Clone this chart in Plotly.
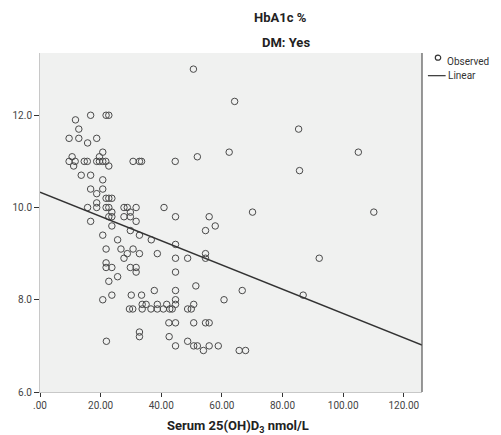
import plotly.graph_objects as go

# ---- data ----
obs_x = [
    11.7, 16.7, 21.8, 22.7, 12.8, 9.6, 12.8, 15.7, 18.7, 20.7, 10.6, 19.6,
    9.6, 11.6, 14.6, 15.6, 18.7, 19.6, 20.7, 21.7, 30.7, 32.8, 33.5, 44.6,
    11.1, 22.7, 13.6, 16.7, 20.7, 16.7, 20.7, 18.7, 21.8, 22.7, 23.7, 18.7,
    15.7, 18.7, 21.8, 22.7, 27.7, 28.8, 31.7, 40.9,
    16.7, 22.7, 23.7, 27.7, 29.8, 23.7, 29.8, 31.7, 23.7, 29.8, 20.7, 32.8,
    36.7, 25.6, 21.8, 26.7, 30.7, 28.8, 32.8, 38.7, 27.7, 21.8, 21.8, 23.7,
    29.8, 31.7, 31.7, 22.7, 25.6, 37.7, 20.7, 23.7, 30.1, 33.5,
    29.5, 30.6, 33.7, 36.6, 38.7, 40.7, 42.8, 43.6,
    33.7, 35.0, 38.7, 41.8,
    42.5, 32.8, 32.8, 42.6, 21.9,
    44.7, 55.8, 57.8, 54.6, 44.7, 54.6, 44.7, 48.7, 54.6, 44.7, 51.4, 44.7,
    66.7, 60.7, 44.7, 44.7, 50.7, 48.7, 49.9, 44.7, 50.7, 54.6, 55.8,
    44.7, 48.7, 50.7, 51.9, 53.9, 55.8, 58.8, 65.7, 67.8, 70.1,
    50.6, 64.2, 85.3, 51.9, 62.4, 85.6, 105.0, 110.1, 92.1, 86.8,
]
obs_y = [
    11.9, 12.0, 12.0, 12.0, 11.7, 11.5, 11.5, 11.4, 11.5, 11.2, 11.1, 11.1,
    11.0, 11.0, 11.0, 11.0, 11.0, 11.0, 11.0, 11.0, 11.0, 11.0, 11.0, 11.0,
    10.9, 10.9, 10.7, 10.7, 10.6, 10.4, 10.4, 10.3, 10.2, 10.2, 10.2, 10.1,
    10.0, 10.0, 10.0, 10.0, 10.0, 10.0, 10.0, 10.0,
    9.7, 9.8, 9.8, 9.8, 9.8, 9.9, 9.9, 9.7, 9.6, 9.5, 9.4, 9.4,
    9.3, 9.3, 9.1, 9.1, 9.1, 9.0, 9.0, 9.0, 8.9, 8.8, 8.7, 8.7,
    8.7, 8.7, 8.6, 8.4, 8.5, 8.2, 8.0, 8.1, 8.1, 8.1,
    7.8, 7.8, 7.8, 7.8, 7.8, 7.8, 7.8, 7.8,
    7.9, 7.9, 7.9, 7.9,
    7.5, 7.3, 7.2, 7.2, 7.1,
    9.8, 9.8, 9.6, 9.5, 9.2, 9.0, 8.9, 8.9, 8.9, 8.6, 8.3, 8.2,
    8.2, 8.0, 8.0, 7.9, 7.9, 7.8, 7.8, 7.5, 7.5, 7.5, 7.5,
    7.0, 7.1, 7.0, 7.0, 6.9, 7.0, 7.0, 6.9, 6.9, 9.9,
    13.0, 12.3, 11.7, 11.1, 11.2, 10.8, 11.2, 9.9, 8.9, 8.1,
]

fit_x = [0.0, 126.0]
fit_y = [10.33, 7.02]

x_tick_vals = [0, 20, 40, 60, 80, 100, 120]
x_tick_text = [".00", "20.00", "40.00", "60.00", "80.00", "100.00", "120.00"]
y_tick_vals = [6, 8, 10, 12]
y_tick_text = ["6.0", "8.0", "10.0", "12.0"]

FONT = "Roboto"

fig = go.Figure()
fig.add_trace(go.Scatter(
    x=obs_x, y=obs_y, mode="markers", name="Observed",
    marker=dict(symbol="circle-open", size=6.5, color="#4a4a4a",
                line=dict(width=1, color="#4a4a4a")),
    showlegend=False,
))
fig.add_trace(go.Scatter(
    x=fit_x, y=fit_y, mode="lines", name="Linear",
    line=dict(color="#333333", width=1.5), showlegend=False,
))

fig.update_layout(
    width=501, height=435,
    margin=dict(l=34, r=79, t=53, b=43, pad=0),
    paper_bgcolor="white", plot_bgcolor="#f0f1f0",
    font=dict(family=FONT, size=10, color="#444444"),
    xaxis=dict(range=[0, 126], tickvals=x_tick_vals, ticktext=x_tick_text,
               showgrid=False, zeroline=False, showline=True,
               linecolor="#c8c8c8", linewidth=1,
               ticks="outside", ticklen=4, tickcolor="#333333",
               tickfont=dict(size=10, color="#444444")),
    yaxis=dict(range=[6, 13.35], tickvals=y_tick_vals, ticktext=y_tick_text,
               showgrid=False, zeroline=False, showline=True,
               linecolor="#c8c8c8", linewidth=1,
               ticks="outside", ticklen=5, tickcolor="#333333",
               tickfont=dict(size=10, color="#444444")),
    shapes=[
        # right frame line
        dict(type="line", xref="paper", yref="paper", x0=1, x1=1, y0=0, y1=1,
             line=dict(color="#555555", width=1.2)),
        # legend line sample
        dict(type="line", xref="paper", yref="paper",
             x0=(428 - 34) / 388, x1=(446 - 34) / 388,
             y0=(392.7 - 76) / 339.4, y1=(392.7 - 76) / 339.4,
             line=dict(color="#333333", width=1.2)),
        # legend circle sample
        dict(type="circle", xref="paper", yref="paper",
             x0=(435.5 - 34) / 388, x1=(441 - 34) / 388,
             y0=(392.7 - 60.5) / 339.4, y1=(392.7 - 55.5) / 339.4,
             line=dict(color="#333333", width=1.2)),
    ],
    annotations=[
        dict(text="<b>HbA1c %</b>", xref="paper", yref="paper",
             x=(278 - 34) / 388, y=(392.7 - 18) / 339.4, xanchor="center",
             yanchor="middle", showarrow=False,
             font=dict(family=FONT, size=13, color="#222222")),
        dict(text="<b>DM: Yes</b>", xref="paper", yref="paper",
             x=(284 - 34) / 388, y=(392.7 - 43) / 339.4, xanchor="center",
             yanchor="middle", showarrow=False,
             font=dict(family=FONT, size=13, color="#222222")),
        dict(text="<b>Serum 25(OH)D<sub>3</sub> nmol/L</b>", xref="paper",
             yref="paper", x=(235 - 34) / 388, y=(392.7 - 427) / 339.4,
             xanchor="center", yanchor="middle", showarrow=False,
             font=dict(family=FONT, size=13, color="#222222")),
        dict(text="Observed", xref="paper", yref="paper",
             x=(445 - 34) / 388, y=(392.7 - 62) / 339.4, xanchor="left",
             yanchor="middle", showarrow=False,
             font=dict(family=FONT, size=10, color="#333333")),
        dict(text="Linear", xref="paper", yref="paper",
             x=(446 - 34) / 388, y=(392.7 - 76) / 339.4, xanchor="left",
             yanchor="middle", showarrow=False,
             font=dict(family=FONT, size=10, color="#333333")),
    ],
)

fig.write_html("out.html",
               config={"displayModeBar": False},
               post_script="document.body.style.margin='0';"
                           "document.body.style.padding='0';")
